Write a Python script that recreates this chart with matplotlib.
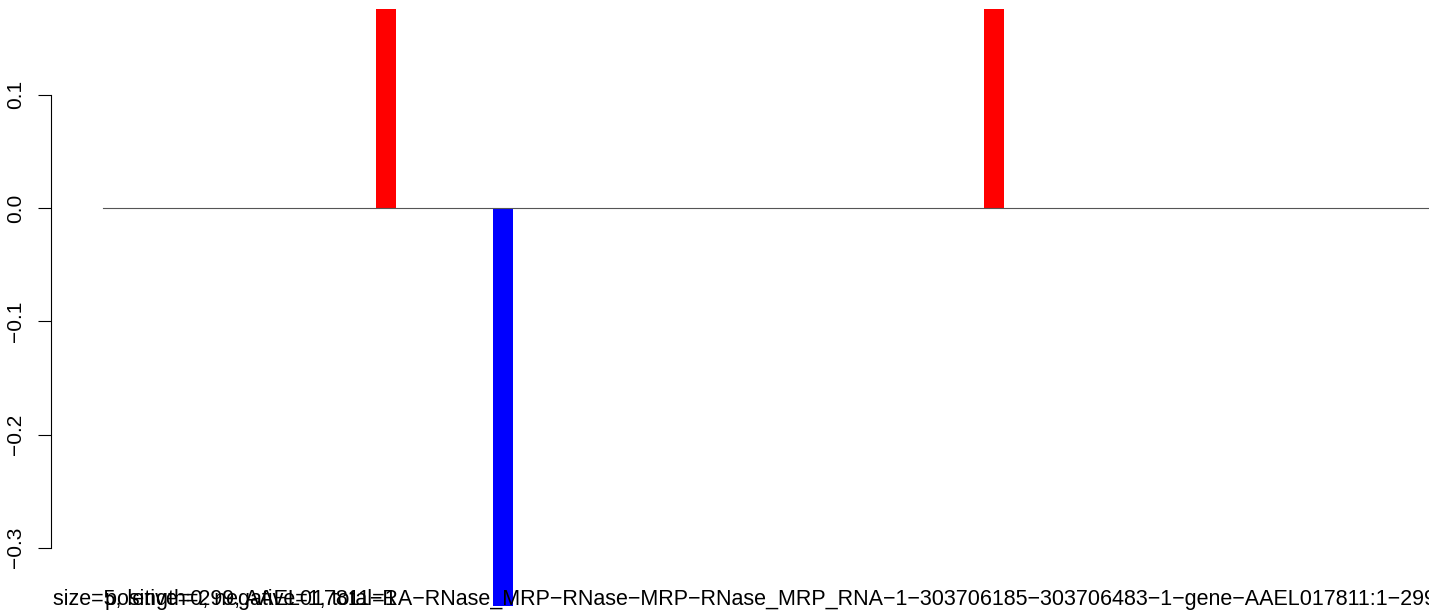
import matplotlib
matplotlib.use("Agg")
import matplotlib.pyplot as plt

# data
sites = [64, 90, 199]
scores = [1.0, -1.0, 1.0]          # bars run past the plot region and are clipped
bar_cols = ['red', 'blue', 'red']
seq_len = 299
yticks = [0.1, 0.0, -0.1, -0.2, -0.3]
ytick_labels = ['0.1', '0.0', '\u22120.1', '\u22120.2', '\u22120.3']
label_main = ('size=5, length=299, AAEL017811\u2212RA\u2212RNase_MRP\u2212RNase\u2212MRP\u2212'
              'RNase_MRP_RNA\u22121\u2212303706185\u2212303706483\u22121\u2212gene\u2212'
              'AAEL017811:1\u2212299')
label_counts = 'positive=0, negative=1, total=1'

plt.rcParams['font.family'] = ['Liberation Sans', 'DejaVu Sans']

W, H = 1429, 611
fig = plt.figure(figsize=(W / 100, H / 100), dpi=100)

# pixel layout of the plot region
top_px, bot_px = 9, 606
zero_px, px_per_unit = 208, 1132.5
x0_px, px_per_site = 103, 4.5

ax = fig.add_axes([0, (H - bot_px) / H, 1, (bot_px - top_px) / H])
ax.set_ylim((zero_px - bot_px) / px_per_unit, (zero_px - top_px) / px_per_unit)
ax.set_xlim(1 - x0_px / px_per_site, 1 + (W - x0_px) / px_per_site)

ax.bar(sites, scores, width=20 / px_per_site, color=bar_cols, zorder=1)
ax.plot([1, seq_len], [0, 0], color='#555555', lw=0.8, zorder=2)

for s in ['top', 'right', 'bottom']:
    ax.spines[s].set_visible(False)
ax.spines['left'].set_position(('data', 1 + (50.5 - x0_px) / px_per_site))
ax.spines['left'].set_bounds(-0.3, 0.1)
ax.spines['left'].set_linewidth(0.8)
ax.set_xticks([])
ax.set_yticks(yticks)
ax.set_yticklabels(ytick_labels, rotation=90, va='center', fontsize=15)
ax.tick_params(axis='y', length=9.4, width=0.8, pad=9)

fig.text(53 / W, 6 / H, label_main, fontsize=15.5, ha='left', va='baseline')
fig.text(105 / W, 6 / H, label_counts, fontsize=15.5, ha='left', va='baseline')

fig.savefig('out.png', dpi=100, facecolor='white')
